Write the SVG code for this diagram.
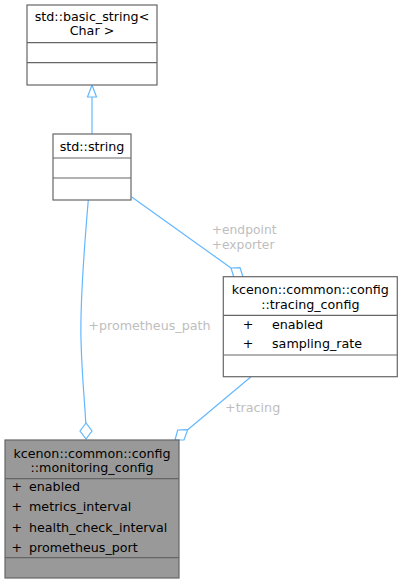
<svg xmlns="http://www.w3.org/2000/svg" width="403" height="585" viewBox="0 0 403 585">
<style>
.box{fill:#ffffff;stroke:#666666;stroke-width:1.2}
.hl{fill:#999999;stroke:#666666;stroke-width:1.2}
.div{stroke:#666666;stroke-width:1.2;fill:none}
.t{font-family:"DejaVu Sans",sans-serif;font-size:12.7px;fill:#000000}
.c{text-anchor:middle}
.lbl{font-family:"DejaVu Sans",sans-serif;font-size:12.7px;fill:#bebebe}
.sm{font-size:12.3px}
.edge{fill:none;stroke:#63b8ff;stroke-width:1.2}
.head{fill:#ffffff;stroke:#63b8ff;stroke-width:1.2}
</style>
<rect width="403" height="585" fill="#ffffff"/>
<g id="connectors">
<path class="edge" d="M92,134 L92,97"/>
<polygon class="head" points="92,85 87.5,97 96.5,97"/>
<path class="edge" d="M88.3,200 C84,250 80,300 81,340 C82,380 85.5,410 85.7,423"/>
<polygon class="head" points="86,423 80,431 86,439 92,431"/>
<path class="edge" d="M131.7,197 L231,268"/>
<polygon class="head" points="231,268 240,267.7 243.3,277.7 234,277.7"/>
<path class="edge" d="M250.7,377 L187.7,429.7"/>
<polygon class="head" points="187.7,429.7 177.7,430 175,440 184,440"/>
<text class="lbl" x="88.3" y="330">+prometheus_path</text>
<text class="lbl sm" x="211.7" y="234.3">+endpoint</text>
<text class="lbl sm" x="211.7" y="248.7">+exporter</text>
<text class="lbl" x="225" y="412">+tracing</text>
</g>
<g id="node_basic_string">
<rect class="box" x="27" y="5" width="130" height="80"/>
<path class="div" d="M27,42.7 H157 M27,62.7 H157"/>
<text class="t c" x="92" y="20.5">std::basic_string&lt;</text>
<text class="t c" x="92" y="35">Char &gt;</text>
</g>
<g id="node_string">
<rect class="box" x="53" y="134" width="78" height="66"/>
<path class="div" d="M53,158 H131 M53,178 H131"/>
<text class="t c" x="92" y="150.5">std::string</text>
</g>
<g id="node_tracing_config">
<rect class="box" x="223.3" y="276.7" width="174" height="100"/>
<path class="div" d="M223.3,315.3 H397.3 M223.3,355 H397.3"/>
<text class="t c" x="310.3" y="294.3">kcenon::common::config</text>
<text class="t c" x="310.3" y="309">::tracing_config</text>
<text class="t c" x="248" y="329">+</text>
<text class="t" x="272" y="329">enabled</text>
<text class="t c" x="248" y="348.3">+</text>
<text class="t" x="272" y="348.3">sampling_rate</text>
</g>
<g id="node_monitoring_config">
<rect class="hl" x="5" y="440" width="174" height="138"/>
<path class="div" d="M5,478.7 H179 M5,557.7 H179"/>
<text class="t c" x="92" y="457.7">kcenon::common::config</text>
<text class="t c" x="92" y="471.5">::monitoring_config</text>
<text class="t" x="11.5" y="491">+</text>
<text class="t" x="29" y="491">enabled</text>
<text class="t" x="11.5" y="511">+</text>
<text class="t" x="29" y="511">metrics_interval</text>
<text class="t" x="11.5" y="531.5">+</text>
<text class="t" x="29" y="531.5">health_check_interval</text>
<text class="t" x="11.5" y="551.5">+</text>
<text class="t" x="29" y="551.5">prometheus_port</text>
</g>
</svg>
